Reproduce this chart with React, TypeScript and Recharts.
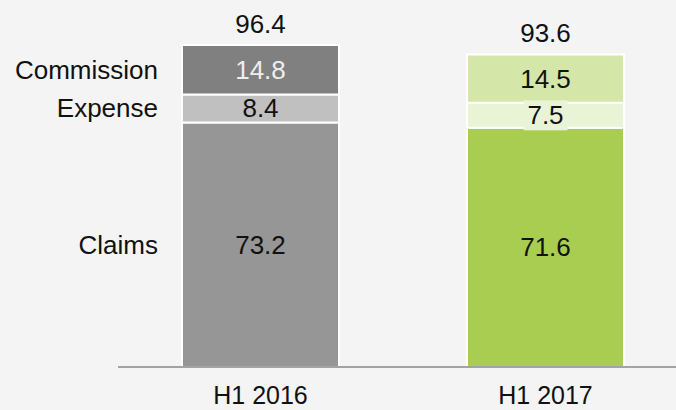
import { BarChart, Bar, XAxis, YAxis, Cell, LabelList } from "recharts"

const periods = ["H1 2016", "H1 2017"]
const claims = [73.2, 71.6]
const expense = [8.4, 7.5]
const commission = [14.8, 14.5]
const totals = [96.4, 93.6]

const data = periods.map((period, i) => ({
  period,
  claims: claims[i],
  expense: expense[i],
  commission: commission[i],
  total: totals[i],
}))

const font = "'Liberation Sans', Arial, sans-serif"
const fontSize = 26

const colors = {
  claims: ["#969696", "#a9cd50"],
  expense: ["#c0c0c0", "#e9f3d6"],
  commission: ["#808080", "#d5e7a8"],
}

const names: Record<string, string> = {
  claims: "Claims",
  expense: "Expense",
  commission: "Commission",
}

function makeLabel(key: "claims" | "expense" | "commission") {
  return (props: any) => {
    const { x, y, width, height, index, value } = props
    const cx = x + width / 2
    const cy = y + height / 2
    const text = Number(value).toFixed(1)
    const fill = key === "commission" && index === 0 ? "#eeeeee" : "#111"
    // text box of the thin expense segment spills over the white separators
    const showBox = key === "expense" && height < 28
    return (
      <g>
        {index === 0 && (
          <text x={x - 24} y={cy + 9} textAnchor="end" fontFamily={font} fontSize={fontSize} fill="#111">
            {names[key]}
          </text>
        )}
        {showBox && (
          <rect x={cx - 22} y={cy - 15} width={44} height={30} fill={colors.expense[index]} />
        )}
        <text x={cx} y={cy + 9} textAnchor="middle" fontFamily={font} fontSize={fontSize} fill={fill}>
          {text}
        </text>
      </g>
    )
  }
}

const totalLabel = (props: any) => {
  const { x, y, width, index } = props
  return (
    <text x={x + width / 2} y={y - 12} textAnchor="middle" fontFamily={font} fontSize={fontSize} fill="#111">
      {totals[index].toFixed(1)}
    </text>
  )
}

const tick = (props: any) => {
  const { x, y, payload } = props
  return (
    <text x={x} y={y + 29} textAnchor="middle" fontFamily={font} fontSize={25} fill="#111">
      {payload.value}
    </text>
  )
}

export default function App() {
  return (
    <div
      style={{
        position: "absolute",
        left: 0,
        top: 0,
        width: 676,
        height: 410,
        overflow: "hidden",
        background: "#f4f4f4",
      }}
    >
      <BarChart
        width={700}
        height={410}
        data={data}
        margin={{ top: 33, right: 12, left: 118, bottom: 0 }}
        barSize={157}
      >
        <XAxis
          dataKey="period"
          axisLine={{ stroke: "#a3a3a3", strokeWidth: 2 }}
          tickLine={false}
          tick={tick}
          height={43}
        />
        <YAxis hide domain={[0, 100]} />
        <Bar dataKey="claims" stackId="a" stroke="#fff" strokeWidth={2} isAnimationActive={false}>
          {data.map((_, i) => (
            <Cell key={i} fill={colors.claims[i]} />
          ))}
          <LabelList dataKey="claims" content={makeLabel("claims")} />
        </Bar>
        <Bar dataKey="expense" stackId="a" stroke="#fff" strokeWidth={2} isAnimationActive={false}>
          {data.map((_, i) => (
            <Cell key={i} fill={colors.expense[i]} />
          ))}
          <LabelList dataKey="expense" content={makeLabel("expense")} />
        </Bar>
        <Bar dataKey="commission" stackId="a" stroke="#fff" strokeWidth={2} isAnimationActive={false}>
          {data.map((_, i) => (
            <Cell key={i} fill={colors.commission[i]} />
          ))}
          <LabelList dataKey="commission" content={makeLabel("commission")} />
          <LabelList dataKey="total" content={totalLabel} />
        </Bar>
      </BarChart>
    </div>
  )
}
